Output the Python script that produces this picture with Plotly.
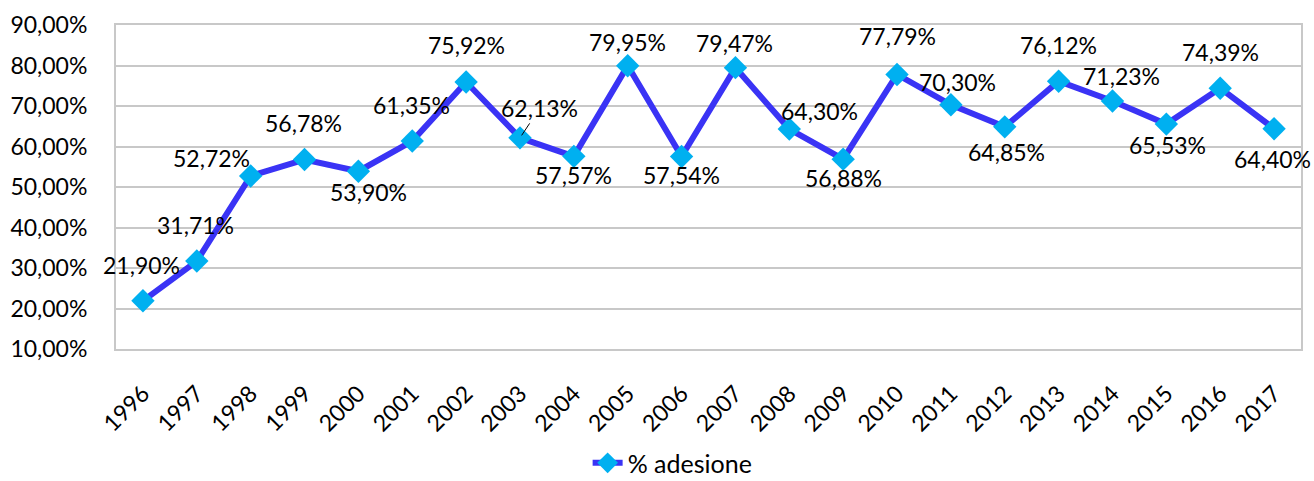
import plotly.graph_objects as go

years = [str(y) for y in range(1996, 2018)]
values = [21.90, 31.71, 52.72, 56.78, 53.90, 61.35, 75.92, 62.13, 57.57, 79.95, 57.54,
          79.47, 64.30, 56.88, 77.79, 70.30, 64.85, 76.12, 71.23, 65.53, 74.39, 64.40]
series_name = "% adesione"
y_tick_vals = [10, 20, 30, 40, 50, 60, 70, 80, 90]
y_tick_text = [f"{v:.2f}".replace(".", ",") + "%" for v in y_tick_vals]
labels = [f"{v:.2f}".replace(".", ",") + "%" for v in values]

# label offsets in pixels (dx right, dy down) relative to each point
label_dx = [-1, -1, -39, -1, 10, -1, 0, 20, 0, 0, 0, -1, 30, 0, 0, 7, 2, 0, 9, 1, 0, -2]
label_dy = [-36, -36, -18, -37, 21, -36, -37, -30, 19, -24, 19, -25, -18, 19, -38, -23, 25, -36, -25, 21, -36, 30]

FONT = "Lato, 'Open Sans', sans-serif"
FS = 23
LINE_COLOR = "#3A33F5"
MARKER_COLOR = "#00B0F0"
GRID = "#C8C8C8"

fig = go.Figure()
fig.add_trace(go.Scatter(
    x=years, y=values, mode="lines+markers", name=series_name,
    line=dict(color=LINE_COLOR, width=6),
    marker=dict(symbol="diamond", size=18, color=MARKER_COLOR, line=dict(width=0)),
    cliponaxis=False,
))

annotations = []
for i, (v, t, dx, dy) in enumerate(zip(values, labels, label_dx, label_dy)):
    if years[i] == "2003":
        annotations.append(dict(x=i, y=v, text=t, showarrow=True, arrowhead=0,
                                arrowwidth=1, arrowcolor="black", ax=dx, ay=dy,
                                standoff=3, font=dict(size=FS, color="black", family=FONT)))
    else:
        annotations.append(dict(x=i, y=v, text=t, showarrow=False,
                                xshift=dx, yshift=-dy,
                                font=dict(size=FS, color="black", family=FONT)))

fig.update_layout(
    width=1314, height=481,
    margin=dict(l=116, r=13, t=25, b=132, autoexpand=False),
    paper_bgcolor="white", plot_bgcolor="white",
    font=dict(family=FONT, size=FS, color="black"),
    showlegend=True,
    legend=dict(orientation="h", x=0.398, xanchor="left", y=-0.352, yanchor="middle",
                font=dict(size=25, family=FONT, color="black")),
    annotations=annotations,
)
fig.update_xaxes(type="category", range=[-0.5, len(years) - 0.5], automargin=False,
                 showgrid=False, showline=True, linecolor=GRID,
                 linewidth=2, mirror=True, ticks="", tickangle=-45,
                 ticklabelstandoff=20, tickfont=dict(size=FS, family=FONT))
fig.update_yaxes(range=[10, 90], tickvals=y_tick_vals, ticktext=y_tick_text, automargin=False,
                 showgrid=True, gridcolor=GRID, gridwidth=1.5, showline=True,
                 linecolor=GRID, linewidth=2, mirror=True, ticks="",
                 ticklabelstandoff=22, zeroline=False, tickfont=dict(size=FS, family=FONT))

fig.write_html("out.html", config={"displayModeBar": False},
               post_script="document.body.style.margin='0';document.body.style.overflow='hidden';")
